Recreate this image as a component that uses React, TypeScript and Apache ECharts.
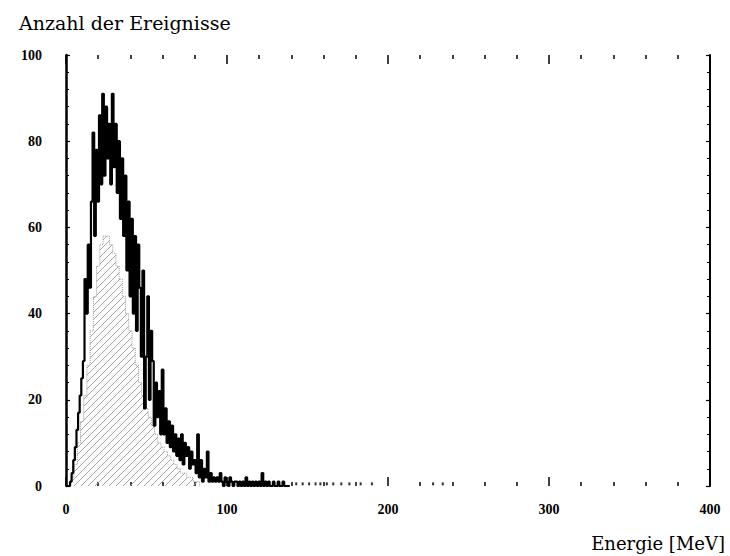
import { useEffect, useRef } from "react";
import * as echarts from "echarts";

const titleText = "Anzahl der Ereignisse";
const xAxisTitle = "Energie [MeV]";
const xTickLabels = ["0", "100", "200", "300", "400"];
const yTickLabels = ["0", "20", "40", "60", "80", "100"];

// Main histogram: counts per 1 MeV bin, bin centres 0,1,2,... MeV
const mainBinWidth = 1;
const mainCounts = [
  0, 0, 0, 1, 3, 6, 9, 13, 17, 21,
  25, 29, 48, 40, 56, 46, 66, 82, 58, 78,
  66, 86, 70, 91, 72, 88, 76, 84, 70, 91,
  74, 84, 68, 80, 62, 76, 58, 72, 50, 66,
  44, 62, 40, 58, 36, 56, 46, 30, 50, 18,
  30, 44, 20, 36, 29, 14, 24, 16, 22, 12,
  27, 12, 18, 10, 15, 9, 14, 8, 12, 7,
  11, 6, 12, 5, 10, 7, 9, 4, 8, 5,
  6, 3, 12, 2, 6, 1, 4, 2, 8, 1,
  3, 1, 2, 1, 2, 1, 3, 1, 0, 2,
  1, 0, 2, 1, 0, 1, 1, 0, 1, 0,
  1, 0, 2, 0, 1, 0, 1, 0, 1, 0,
  1, 0, 3, 0, 1, 0, 1, 0, 0, 1,
  0, 0, 1, 0, 0, 1, 0, 0, 0, 0,
];

// Hatched (second) histogram: bin centres and counts
const hatchEnergy = [
  2, 4, 6, 8, 10, 12, 14, 16, 18, 20, 22, 24, 26, 28, 30, 32, 34, 36, 38, 40,
  42, 44, 46, 48, 50, 52, 54, 56, 58, 60, 62, 64, 66, 68, 70, 72, 74, 76, 78, 80, 82, 84,
];
const hatchCounts = [
  0, 2, 5, 10, 15, 21, 28, 36, 44, 51, 56, 58, 58, 56, 54, 51, 48, 44, 40, 36,
  32, 28, 24, 21, 18, 16, 14, 12, 10, 9, 8, 7, 6, 5, 4, 3, 3, 2, 2, 1, 1, 0,
];

// Isolated single counts in the far tail (MeV)
const tailDotEnergy = [143, 147, 151, 155, 158, 162, 166, 171, 176, 183, 190, 228, 234];

export default function App() {
  const ref = useRef<HTMLDivElement>(null);

  useEffect(() => {
    if (!ref.current) return;
    const chart = echarts.init(ref.current, null, { renderer: "svg" });

    const c = document.createElement("canvas");
    c.width = 7;
    c.height = 7;
    const ctx = c.getContext("2d");
    if (ctx) {
      ctx.strokeStyle = "#9a9a9a";
      ctx.lineWidth = 0.9;
      ctx.beginPath();
      ctx.moveTo(0, 7);
      ctx.lineTo(7, 0);
      ctx.moveTo(-1, 1);
      ctx.lineTo(1, -1);
      ctx.moveTo(6, 8);
      ctx.lineTo(8, 6);
      ctx.stroke();
    }
    const hatchPattern: any = {
      image: c.toDataURL(),
      repeat: "repeat",
      imageWidth: 7,
      imageHeight: 7,
    };

    const mainData = mainCounts.map((v, i) => [i * mainBinWidth, v]);
    const hatchData = hatchEnergy.map((e, i) => [e, hatchCounts[i]]);
    const dotData = tailDotEnergy.map((e) => [e, 0.5]);

    const labelFont = {
      fontFamily: "Liberation Serif",
      fontWeight: "bold" as const,
      fontSize: 14,
      color: "#000",
    };

    const xCommon = {
      type: "value" as const,
      min: 0,
      max: 400,
      interval: 100,
      axisLine: { show: false, onZero: false },
      splitLine: { show: false },
      axisTick: { show: true, inside: true, length: 9, lineStyle: { color: "#000", width: 1.5 } },
      minorTick: { show: true, splitNumber: 5, length: 4, lineStyle: { color: "#000", width: 1.5 } },
    };

    const yCommon = {
      type: "value" as const,
      min: 0,
      max: 100,
      interval: 20,
      axisTick: { show: true, inside: true, length: 4, lineStyle: { color: "#000", width: 1.2 } },
      minorTick: { show: true, splitNumber: 5, length: 3, lineStyle: { color: "#000", width: 1 } },
      splitLine: { show: false },
    };

    chart.setOption({
      animation: false,
      backgroundColor: "#fff",
      title: {
        text: titleText,
        left: 14,
        top: 8,
        textStyle: { fontFamily: "DejaVu Serif", fontSize: 19, fontWeight: "normal", color: "#000" },
      },
      grid: { left: 66, right: 20, top: 55, bottom: 70, containLabel: false },
      xAxis: [
        {
          ...xCommon,
          position: "bottom",
          axisLabel: {
            ...labelFont,
            margin: 16,
            formatter: (v: number) => xTickLabels[Math.round(v / 100)] ?? "",
          },
        },
        {
          ...xCommon,
          position: "top",
          axisLabel: { show: false },
        },
      ],
      yAxis: [
        {
          ...yCommon,
          position: "left",
          axisLine: { show: true, onZero: false, lineStyle: { color: "#000", width: 2.5 } },
          axisLabel: {
            ...labelFont,
            margin: 24,
            formatter: (v: number) => yTickLabels[Math.round(v / 20)] ?? "",
          },
        },
        {
          ...yCommon,
          position: "right",
          axisLine: { show: true, onZero: false, lineStyle: { color: "#000", width: 2 } },
          axisLabel: { show: false },
        },
      ],
      series: [
        {
          name: "hatched",
          type: "line",
          step: "middle",
          xAxisIndex: 0,
          yAxisIndex: 0,
          data: hatchData,
          showSymbol: false,
          z: 1,
          lineStyle: { color: "#999", width: 1, type: "dotted" },
          areaStyle: { color: hatchPattern, opacity: 1 },
        },
        {
          name: "main",
          type: "line",
          step: "middle",
          xAxisIndex: 0,
          yAxisIndex: 0,
          data: mainData,
          showSymbol: false,
          z: 3,
          lineStyle: { color: "#000", width: 2.2 },
        },
        {
          name: "tail",
          type: "scatter",
          xAxisIndex: 0,
          yAxisIndex: 0,
          data: dotData,
          symbol: "rect",
          symbolSize: [2, 3],
          itemStyle: { color: "#000" },
          z: 3,
        },
        {
          name: "frame",
          type: "line",
          xAxisIndex: 1,
          yAxisIndex: 1,
          data: [],
          showSymbol: false,
          silent: true,
        },
      ],
      graphic: [
        {
          type: "text",
          right: 5,
          top: 534,
          style: {
            text: xAxisTitle,
            fontFamily: "DejaVu Serif",
            fontSize: 18,
            fill: "#000",
          },
        },
      ],
    });

    return () => chart.dispose();
  }, []);

  return (
    <div
      ref={ref}
      style={{ position: "fixed", left: 0, top: 0, width: 730, height: 556, background: "#fff" }}
    />
  );
}
